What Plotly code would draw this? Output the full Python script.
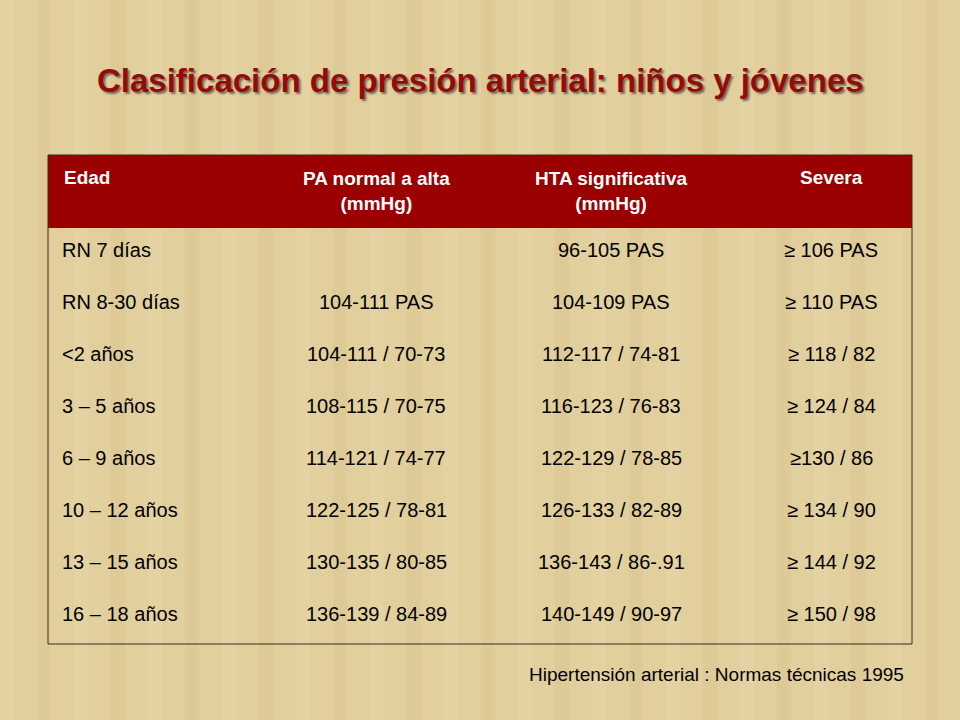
import plotly.graph_objects as go

# table data
title = "Clasificación de presión arterial: niños y jóvenes"
headers = ["Edad", "PA normal a alta<br>(mmHg)", "HTA significativa<br>(mmHg)", "Severa"]
edad = ["RN 7 días", "RN 8-30 días", "<2 años", "3 – 5 años", "6 – 9 años",
        "10 – 12 años", "13 – 15 años", "16 – 18 años"]
normal_alta = ["", "104-111 PAS", "104-111 / 70-73", "108-115 / 70-75", "114-121 / 74-77",
               "122-125 / 78-81", "130-135 / 80-85", "136-139 / 84-89"]
hta_signif = ["96-105 PAS", "104-109 PAS", "112-117 / 74-81", "116-123 / 76-83", "122-129 / 78-85",
              "126-133 / 82-89", "136-143 / 86-.91", "140-149 / 90-97"]
severa = ["≥ 106 PAS", "≥ 110 PAS", "≥ 118 / 82", "≥ 124 / 84", "≥130 / 86",
          "≥ 134 / 90", "≥ 144 / 92", "≥ 150 / 98"]
fuente = "Hipertensión arterial : Normas técnicas 1995"

W, H = 960, 720
left, right = 48, 912
head_top, head_bot, tab_bot = 155, 228, 644
col_cx = [None, 376, 611, 831]
row_h = 52
font = "Liberation Sans, Arial, sans-serif"

fig = go.Figure()
fig.add_trace(go.Scatter(x=[0, W], y=[0, H], mode="markers", marker=dict(opacity=0), hoverinfo="skip"))

shapes = [
    dict(type="rect", xref="x", yref="y", x0=0, x1=W, y0=0, y1=H, line=dict(width=0),
         fillcolor="#e2cf9e", layer="below"),
    dict(type="rect", xref="x", yref="y", x0=left, x1=right, y0=head_top, y1=head_bot,
         line=dict(width=0), fillcolor="#9a0000"),
    dict(type="rect", xref="x", yref="y", x0=left, x1=right, y0=head_top, y1=tab_bot,
         line=dict(width=1, color="#3a2a20")),
]
# faint texture stripes
for i, xs in enumerate(range(0, W, 37)):
    shapes.append(dict(type="rect", xref="x", yref="y", x0=xs, x1=xs + 14, y0=0, y1=H,
                       line=dict(width=0), fillcolor="#d6c08a" if i % 2 else "#ead8aa",
                       opacity=0.35, layer="below"))

ann = []
ann.append(dict(x=W / 2, y=80, text="<b>%s</b>" % title, showarrow=False,
                font=dict(family=font, size=33, color="#930c0c",
                          shadow="2px 2px 2px #7a6a55")))

hy = [177, 191, 191, 177]
for j, h in enumerate(headers):
    if j == 0:
        ann.append(dict(x=62, y=177, text="<b>%s</b>" % h, showarrow=False, xanchor="left",
                        font=dict(family=font, size=19, color="white")))
    else:
        ann.append(dict(x=col_cx[j], y=hy[j], text="<b>%s</b>" % h, showarrow=False,
                        font=dict(family=font, size=19, color="white")))

for i in range(len(edad)):
    y = 250 + i * row_h
    ann.append(dict(x=60, y=y, text=edad[i], showarrow=False, xanchor="left",
                    font=dict(family=font, size=20, color="black")))
    for j, col in enumerate([normal_alta, hta_signif, severa], start=1):
        ann.append(dict(x=col_cx[j], y=y, text=col[i], showarrow=False,
                        font=dict(family=font, size=20, color="black")))

ann.append(dict(x=906, y=674, text=fuente, showarrow=False, xanchor="right",
                font=dict(family=font, size=19, color="black")))

fig.update_layout(width=W, height=H, margin=dict(l=0, r=0, t=0, b=0, pad=0),
                  shapes=shapes, annotations=ann, showlegend=False,
                  plot_bgcolor="#e2cf9e", paper_bgcolor="#e2cf9e",
                  xaxis=dict(range=[0, W], visible=False, fixedrange=True),
                  yaxis=dict(range=[H, 0], visible=False, fixedrange=True))
fig.write_html("out.html", config={"displayModeBar": False},
               post_script="document.body.style.margin='0';document.body.style.overflow='hidden';")
